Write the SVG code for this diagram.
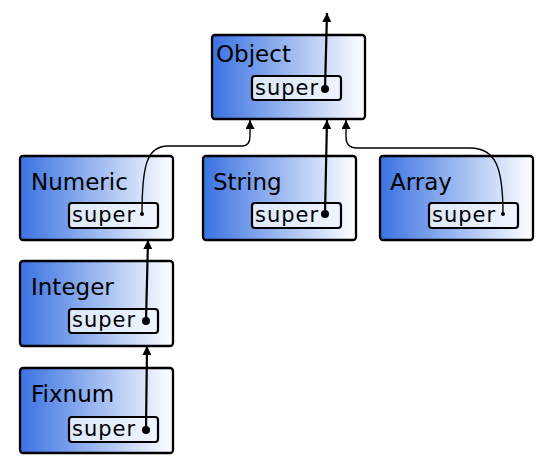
<svg xmlns="http://www.w3.org/2000/svg" width="550" height="460" viewBox="0 0 550 460">
<defs>
<linearGradient id="g" x1="0" y1="0" x2="1" y2="0">
<stop offset="0" stop-color="#3a72e2"/>
<stop offset="1" stop-color="#ffffff"/>
</linearGradient>
<marker id="ah" viewBox="0 0 10 10" refX="10" refY="5" markerWidth="9" markerHeight="9" markerUnits="userSpaceOnUse" orient="auto">
<path d="M0,0 L10,5 L0,10 Z" fill="#000"/>
</marker>
<style>
.box{fill:url(#g);stroke:#000;stroke-width:2.3}
.sup{fill:#eef4ff;fill-opacity:0.85;stroke:#000;stroke-width:2.2}
.t{font-family:"DejaVu Sans",sans-serif;font-size:23px;fill:#000}
.s{font-family:"DejaVu Sans",sans-serif;font-size:21px;fill:#000;letter-spacing:1px}
.c{fill:none;stroke:#000;stroke-width:2.2;marker-end:url(#ah)}
.cc{fill:none;stroke:#000;stroke-width:1.4;marker-end:url(#ah)}
</style>
</defs>
<g id="Object">
<rect class="box" x="212" y="35" width="153" height="84" rx="3"/>
<text class="t" x="216" y="62">Object</text>
<rect class="sup" x="252" y="76" width="89" height="24" rx="3"/>
<text class="s" x="255" y="95">super</text>
</g>
<g id="Numeric">
<rect class="box" x="20" y="156" width="153" height="84" rx="3"/>
<text class="t" x="31" y="190">Numeric</text>
<rect class="sup" x="69" y="203" width="89" height="25" rx="3"/>
<text class="s" x="72" y="222">super</text>
</g>
<g id="String">
<rect class="box" x="203" y="156" width="153" height="84" rx="3"/>
<text class="t" x="213" y="190">String</text>
<rect class="sup" x="252" y="203" width="89" height="25" rx="3"/>
<text class="s" x="255" y="222">super</text>
</g>
<g id="Array">
<rect class="box" x="380" y="156" width="153" height="84" rx="3"/>
<text class="t" x="390" y="190">Array</text>
<rect class="sup" x="429" y="203" width="89" height="25" rx="3"/>
<text class="s" x="432" y="222">super</text>
</g>
<g id="Integer">
<rect class="box" x="20" y="261" width="153" height="85" rx="3"/>
<text class="t" x="31" y="295">Integer</text>
<rect class="sup" x="69" y="309" width="89" height="24" rx="3"/>
<text class="s" x="72" y="327">super</text>
</g>
<g id="Fixnum">
<rect class="box" x="20" y="368" width="153" height="85" rx="3"/>
<text class="t" x="31" y="402">Fixnum</text>
<rect class="sup" x="69" y="417" width="89" height="25" rx="3"/>
<text class="s" x="72" y="436">super</text>
</g>
<g id="connectors">
<path class="c" d="M325,89 L327,13"/>
<circle cx="325" cy="89" r="4"/>
<path class="c" d="M325,214 L327,120"/>
<circle cx="325" cy="214" r="4"/>
<path class="c" d="M146,321 L148,240"/>
<circle cx="146" cy="321" r="4"/>
<path class="c" d="M146,430 L147,346"/>
<circle cx="146" cy="430" r="4"/>
<path class="cc" d="M142,214 C142,165 147,146 168,146 L242,146 Q250,146 250,136 L250,120"/>
<circle cx="142" cy="214" r="2"/>
<path class="cc" d="M503,214 C503,168 496,148 470,148 L357,148 Q346,148 346,137 L346,120"/>
<circle cx="503" cy="214" r="2"/>
</g>
</svg>
